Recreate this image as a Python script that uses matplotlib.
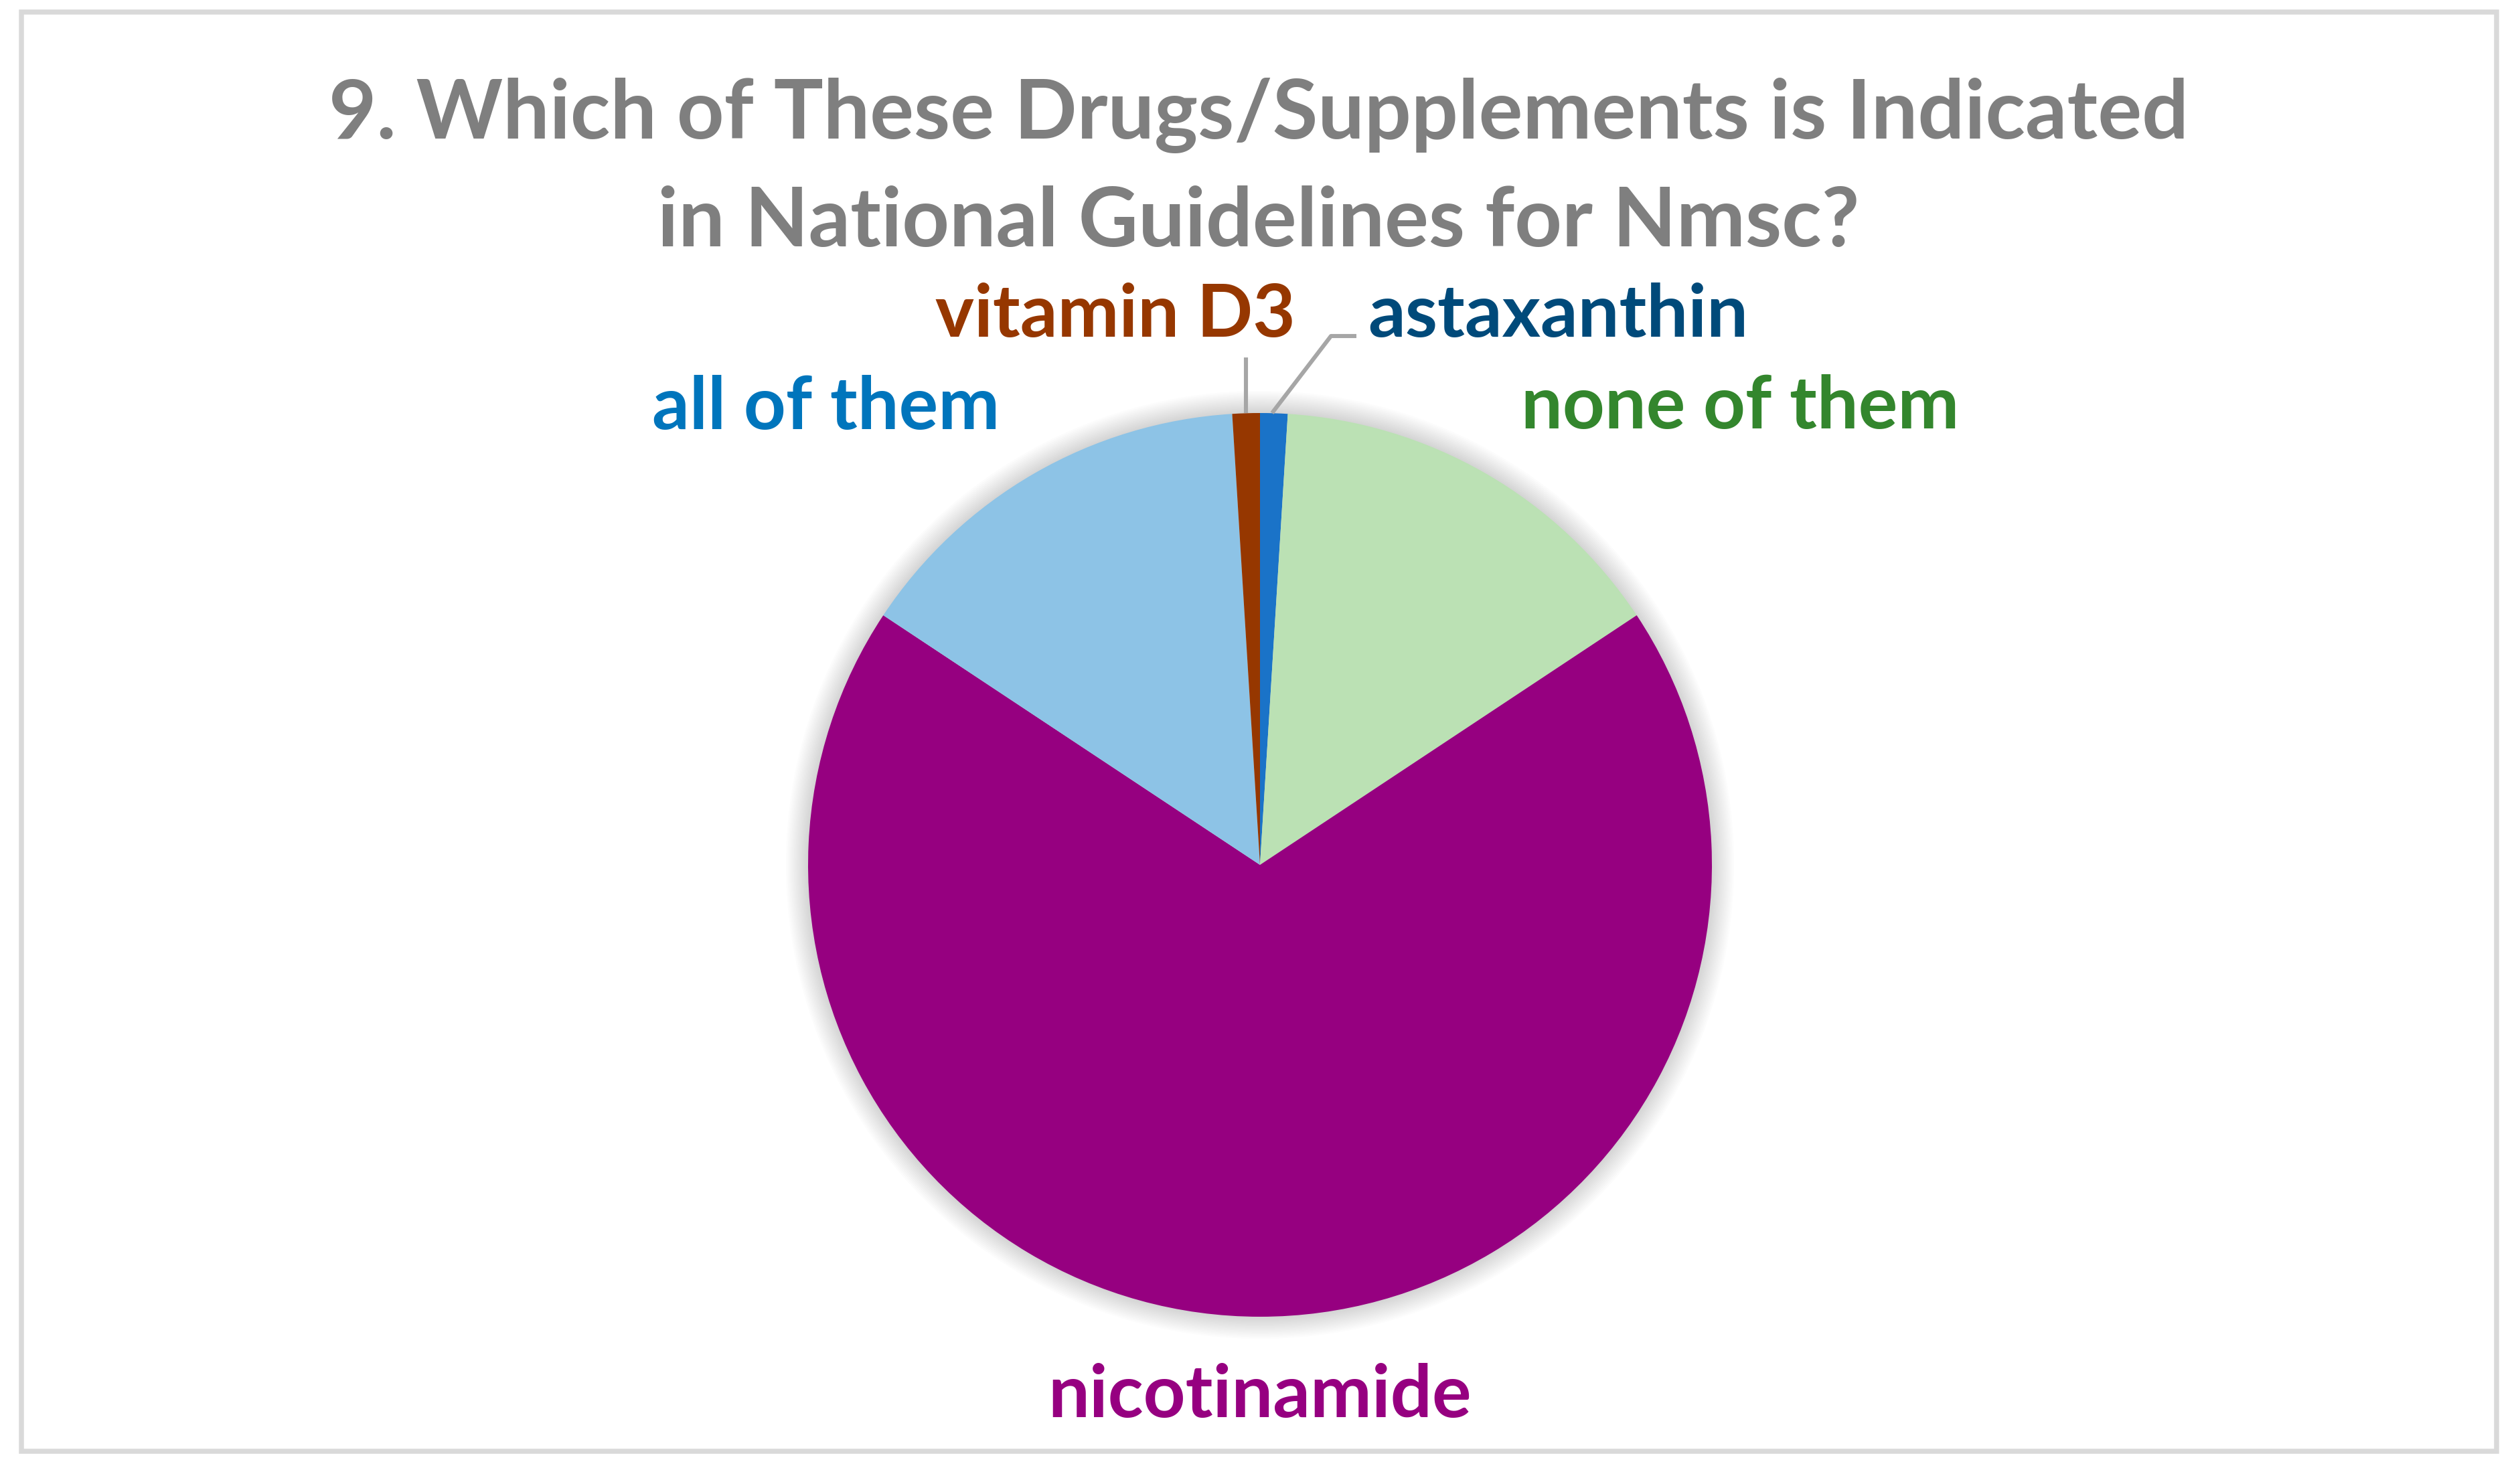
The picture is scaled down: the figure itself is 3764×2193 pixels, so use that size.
import numpy as np
import matplotlib
matplotlib.use("Agg")
import matplotlib.pyplot as plt
from matplotlib.patches import Circle, Rectangle

# Data
labels = ["astaxanthin", "none of them", "nicotinamide", "all of them", "vitamin D3"]
values = [1, 15, 70, 15, 1]
slice_colors = ["#1a73c8", "#bbe1b4", "#960080", "#8dc3e6", "#963700"]
label_colors = ["#004a7a", "#33862d", "#960080", "#0075bc", "#963700"]
title_lines = ["9. Which of These Drugs/Supplements is Indicated",
               "in National Guidelines for Nmsc?"]

W, H, DPI = 3764, 2193, 200
cx, cy, R = 1882, 1292, 675  # pie centre / radius in pixels

plt.rcParams['font.family'] = ['Lato', 'DejaVu Sans']

fig = plt.figure(figsize=(W / DPI, H / DPI), dpi=DPI)
ax = fig.add_axes([0, 0, 1, 1])

# soft glow behind the pie
for k in range(14, 0, -1):
    ax.add_patch(Circle((0, 0), 1 + k * 0.0035, color="#000000",
                        alpha=0.012, lw=0, zorder=0))

wedges, _ = ax.pie(values, colors=slice_colors, startangle=90,
                   counterclock=False, radius=1, center=(0, 0),
                   wedgeprops=dict(linewidth=0))
for w in wedges:
    w.set_zorder(2)

ax.set_aspect('auto')
ax.set_xlim(-cx / R, (W - cx) / R)
ax.set_ylim((cy - H) / R, cy / R)
ax.axis('off')


def px(x, y):
    return (x - cx) / R, (cy - y) / R


# label positions in pixels (anchor x / baseline)
label_pos = {
    "astaxanthin": (2043, 503, 'left'),
    "none of them": (2272, 640, 'left'),
    "nicotinamide": (1882, 2117, 'center'),
    "all of them": (974, 641, 'left'),
    "vitamin D3": (1935, 503, 'right'),
}
for lab, col in zip(labels, label_colors):
    x, y, ha = label_pos[lab]
    tx, ty = px(x, y)
    ax.text(tx, ty, lab, color=col, fontsize=39.5, fontweight='bold',
            ha=ha, va='baseline', zorder=5)

# leader lines
lx, ly = zip(px(2026, 502), px(1988, 502), px(1900, 617))
ax.plot(lx, ly, color="#a6a6a6", lw=2.2, zorder=3, solid_capstyle='butt')
lx, ly = zip(px(1861, 534), px(1861, 617))
ax.plot(lx, ly, color="#a6a6a6", lw=2.2, zorder=3, solid_capstyle='butt')

# title
fig.text(1880 / W, 1 - 207 / H, title_lines[0], ha='center', va='baseline',
         fontsize=44.4, fontweight='bold', color="#7f7f7f")
fig.text(1880 / W, 1 - 368 / H, title_lines[1], ha='center', va='baseline',
         fontsize=44.4, fontweight='bold', color="#7f7f7f")

# chart border
fig.patches.append(Rectangle((32 / W, 1 - 2168 / H), (3729 - 32) / W,
                             (2168 - 18) / H, transform=fig.transFigure,
                             fill=False, edgecolor="#d9d9d9", lw=2.7))

fig.savefig("out.png", dpi=DPI)
